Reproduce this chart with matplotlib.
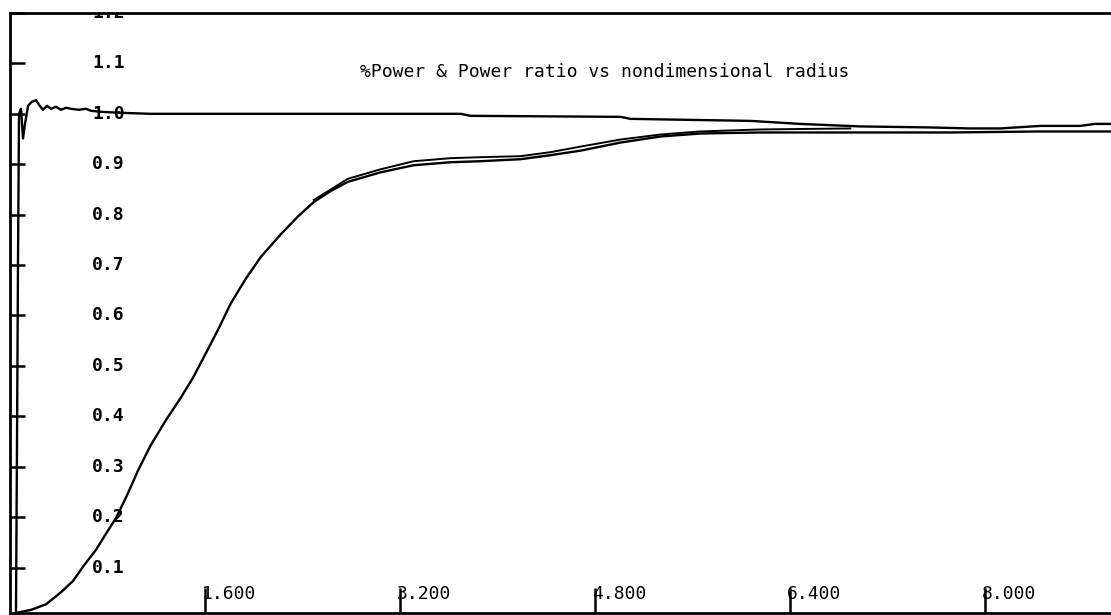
import numpy as np
import matplotlib
matplotlib.use("Agg")
import matplotlib.pyplot as plt
import matplotlib.transforms as mtransforms

# %Power (glavna krivulja)
snaga_x = [0.049, 0.172, 0.295, 0.418, 0.516, 0.606, 0.705, 0.787, 0.869, 0.967,
           1.049, 1.155, 1.278, 1.401, 1.500, 1.606, 1.713, 1.811, 1.934, 2.057,
           2.221, 2.360, 2.491, 2.631, 2.770, 3.040, 3.311, 3.614, 3.860, 4.188,
           4.434, 4.680, 5.007, 5.335, 5.663, 6.155, 6.892, 7.712, 8.450, 9.031]
snaga_y = [0.010, 0.016, 0.027, 0.051, 0.073, 0.104, 0.135, 0.167, 0.198, 0.247,
           0.292, 0.343, 0.392, 0.437, 0.476, 0.525, 0.575, 0.624, 0.673, 0.716,
           0.761, 0.796, 0.825, 0.847, 0.865, 0.884, 0.898, 0.904, 0.906, 0.910,
           0.918, 0.927, 0.943, 0.955, 0.961, 0.963, 0.963, 0.963, 0.965, 0.965]

# druga nit iste krivulje (dvostruka linija na platou)
snaga2_x = [2.491, 2.770, 3.040, 3.311, 3.614, 3.860, 4.188, 4.434, 4.680, 5.007,
            5.335, 5.663, 6.155, 6.892]
snaga2_y = [0.829, 0.871, 0.890, 0.906, 0.912, 0.914, 0.916, 0.924, 0.935, 0.949,
            0.959, 0.965, 0.969, 0.971]

# Power ratio
omjer_x = [0.049, 0.057, 0.066, 0.074, 0.090, 0.107, 0.123, 0.148, 0.180, 0.213,
           0.238, 0.270, 0.303, 0.336, 0.377, 0.418, 0.459, 0.500, 0.565, 0.623,
           0.664, 0.746, 0.910, 1.155, 3.696, 3.778, 5.007, 5.089, 6.072, 6.482,
           6.974, 7.548, 7.875, 8.121, 8.450, 8.777, 8.900, 9.031]
omjer_y = [0.010, 0.329, 0.722, 1.000, 1.010, 0.951, 0.980, 1.016, 1.024, 1.027,
           1.018, 1.008, 1.016, 1.010, 1.014, 1.008, 1.012, 1.010, 1.008, 1.010,
           1.006, 1.004, 1.002, 1.000, 1.000, 0.996, 0.994, 0.990, 0.986, 0.980,
           0.975, 0.973, 0.971, 0.971, 0.976, 0.976, 0.980, 0.980]

y_oznake = [0.1, 0.2, 0.3, 0.4, 0.5, 0.6, 0.7, 0.8, 0.9, 1.0, 1.1, 1.2]
x_oznake = [1.6, 3.2, 4.8, 6.4, 8.0]
naslov = "%Power & Power ratio vs nondimensional radius"

font = "DejaVu Sans Mono"

fig = plt.figure(figsize=(11.11, 6.15), dpi=100)
ax = fig.add_axes([10 / 1111, 2 / 615, 1101 / 1111, 600 / 615])
ax.set_xlim(0, 9.03)
ax.set_ylim(0.0098, 1.186)

ax.plot(snaga_x, snaga_y, color="black", lw=1.7)
ax.plot(snaga2_x, snaga2_y, color="black", lw=1.4)
ax.plot(omjer_x, omjer_y, color="black", lw=1.7)

# okvir: lijevo, dolje, gore
ax.spines["right"].set_visible(False)
for s in ["left", "bottom", "top"]:
    ax.spines[s].set_linewidth(2)

ax.set_yticks(y_oznake)
ax.set_yticklabels([])
ax.set_xticks(x_oznake)
ax.set_xticklabels([])
ax.tick_params(axis="y", direction="in", length=11, width=1.8)
ax.tick_params(axis="x", direction="in", length=18, width=1.8)
ax.tick_params(top=False, right=False)

# oznake y osi unutar grafa, 1.2 je odrezana gornjim rubom
trY = mtransforms.blended_transform_factory(ax.transAxes, ax.transData)
for v in y_oznake:
    ax.text(0.0745, v, "%.1f" % v, transform=trY, ha="left", va="center",
            fontsize=13, family=font, fontweight="bold", clip_on=True)

trX = mtransforms.blended_transform_factory(ax.transData, ax.transAxes)
for v in x_oznake:
    ax.text(v - 0.03, 0.032, "%.3f" % v, transform=trX, ha="left", va="center",
            fontsize=13, family=font)

ax.text(0.318, 0.902, naslov, transform=ax.transAxes, ha="left", va="center",
        fontsize=13, family=font)

fig.savefig("out.png", dpi=100)
